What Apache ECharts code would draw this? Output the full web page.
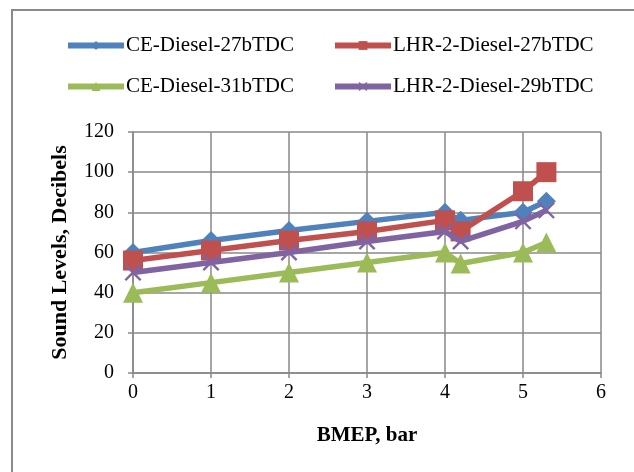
<!DOCTYPE html>
<html><head><meta charset="utf-8">
<script src="https://cdn.jsdelivr.net/npm/echarts@6/dist/echarts.min.js"></script>
<style>html,body{margin:0;padding:0;background:#fff}#c{width:634px;height:472px}</style>
</head><body><div id="c"></div>
<script>
const xValues = [0, 1, 2, 3, 4, 4.2, 5, 5.3];
const ce27 = [60, 66, 71, 75.5, 80, 76, 80, 85.5];
const lhr27 = [56, 61, 66, 70.5, 76, 70.5, 90.5, 100];
const ce31 = [40, 45, 50, 55, 60, 54.5, 60, 65];
const lhr29 = [50, 55, 60, 65.5, 70.5, 65.5, 75.5, 81];
const seriesNames = ['CE-Diesel-27bTDC', 'LHR-2-Diesel-27bTDC', 'CE-Diesel-31bTDC', 'LHR-2-Diesel-29bTDC'];
const colors = ['#4F81BD', '#C0504D', '#9BBB59', '#8064A2'];
const xTitle = 'BMEP, bar';
const yTitle = 'Sound Levels, Decibels';

const crossPath = 'path://M0,1 L1,0 L5,4 L9,0 L10,1 L6,5 L10,9 L9,10 L5,6 L1,10 L0,9 L4,5 Z';
const symbols = ['diamond', 'rect', 'triangle', crossPath];
const sizes = [19, 20, 20, 17];
const datas = [ce27, lhr27, ce31, lhr29];
const font = '"Liberation Serif", "DejaVu Serif", serif';

const chart = echarts.init(document.getElementById('c'));
const legendPos = [[65, 35], [332, 35], [65, 76], [332, 76]];
chart.setOption({
  animation: false,
  textStyle: { fontFamily: font },
  graphic: [{ type: 'rect', shape: { x: 12, y: 10, width: 700, height: 600 }, style: { fill: 'none', stroke: '#8a8a8a', lineWidth: 2 } }],
  legend: seriesNames.map((n, i) => ({
    data: [n], left: legendPos[i][0], top: legendPos[i][1], padding: 0,
    itemWidth: 56, itemHeight: 11, itemGap: 2,
    lineStyle: { width: 6 },
    itemStyle: { borderWidth: 0 },
    textStyle: { fontFamily: font, fontSize: 21, color: '#000', padding: [0, 0, 0, -3] }
  })),
  grid: { left: 133, right: 33, top: 132, bottom: 99 },
  xAxis: {
    type: 'value', min: 0, max: 6, interval: 1,
    name: xTitle, nameLocation: 'middle', nameGap: 52,
    nameTextStyle: { fontFamily: font, fontSize: 21, fontWeight: 'bold', color: '#000' },
    axisLine: { lineStyle: { color: '#888', width: 1.5 } },
    axisTick: { show: true, length: 5, lineStyle: { color: '#888', width: 1.5 } },
    axisLabel: { fontFamily: font, fontSize: 20, color: '#000', margin: 10 },
    splitLine: { show: true, lineStyle: { color: '#888', width: 1.5 } }
  },
  yAxis: {
    type: 'value', min: 0, max: 120, interval: 20,
    name: yTitle, nameLocation: 'middle', nameGap: 62, nameRotate: 90,
    nameTextStyle: { fontFamily: font, fontSize: 22, fontWeight: 'bold', color: '#000' },
    axisLine: { show: true, lineStyle: { color: '#888', width: 1.5 } },
    axisTick: { show: true, length: 5, lineStyle: { color: '#888', width: 1.5 } },
    axisLabel: { fontFamily: font, fontSize: 20, color: '#000', margin: 19 },
    splitLine: { show: true, lineStyle: { color: '#888', width: 1.5 } }
  },
  series: seriesNames.map((n, i) => ({
    name: n, type: 'line',
    data: xValues.map((x, j) => [x, datas[i][j]]),
    symbol: symbols[i], symbolSize: sizes[i],
    lineStyle: { color: colors[i], width: 5.5 },
    itemStyle: { color: colors[i] },
    z: [2, 3, 1, 4][i]
  }))
});
</script></body></html>
